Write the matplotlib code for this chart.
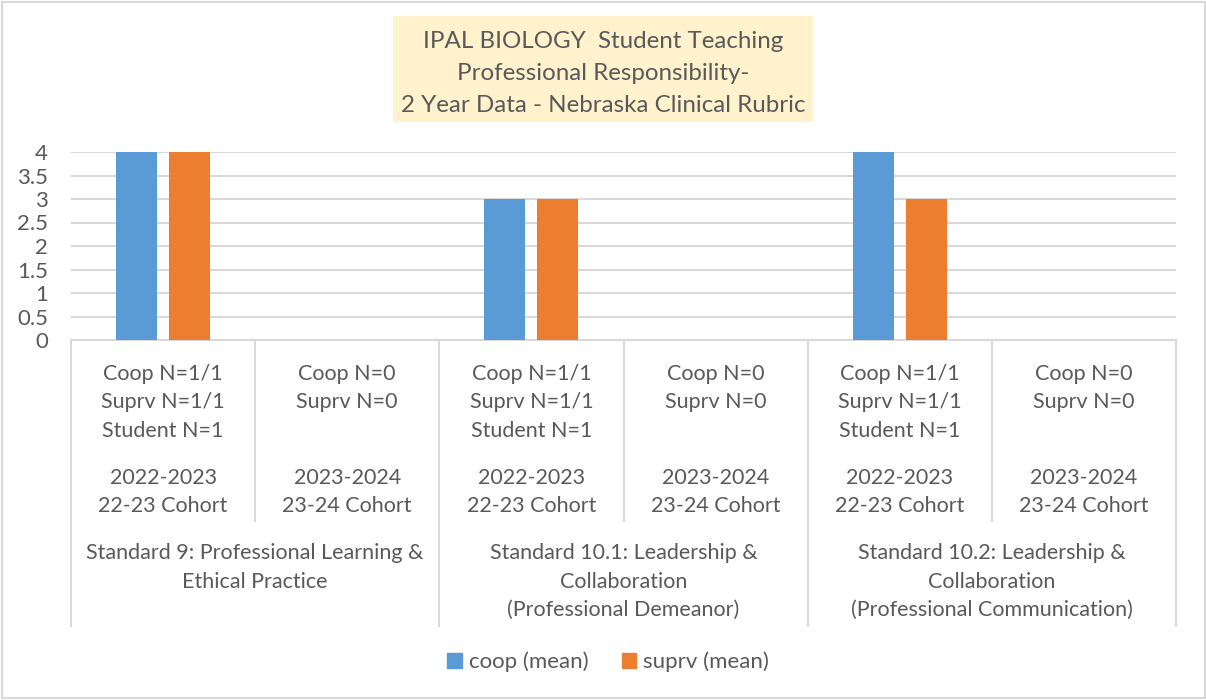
import numpy as np
import matplotlib
matplotlib.use('Agg')
import matplotlib.pyplot as plt
from matplotlib.patches import Patch, Rectangle
from matplotlib.lines import Line2D
import matplotlib.transforms as mtransforms

# data
coop_mean = [4, np.nan, 3, np.nan, 4, np.nan]
suprv_mean = [4, np.nan, 3, np.nan, 3, np.nan]
n_labels = [['Coop N=1/1', 'Suprv N=1/1', 'Student N=1'], ['Coop N=0', 'Suprv N=0'],
            ['Coop N=1/1', 'Suprv N=1/1', 'Student N=1'], ['Coop N=0', 'Suprv N=0'],
            ['Coop N=1/1', 'Suprv N=1/1', 'Student N=1'], ['Coop N=0', 'Suprv N=0']]
year_labels = [['2022-2023', '22-23 Cohort'], ['2023-2024', '23-24 Cohort'],
               ['2022-2023', '22-23 Cohort'], ['2023-2024', '23-24 Cohort'],
               ['2022-2023', '22-23 Cohort'], ['2023-2024', '23-24 Cohort']]
group_labels = [['Standard 9: Professional Learning &', 'Ethical Practice'],
                ['Standard 10.1: Leadership &', 'Collaboration', '(Professional Demeanor)'],
                ['Standard 10.2: Leadership &', 'Collaboration', '(Professional Communication)']]
title_lines = ['IPAL BIOLOGY  Student Teaching', 'Professional Responsibility-',
               '2 Year Data - Nebraska Clinical Rubric']
yticks = [0, 0.5, 1, 1.5, 2, 2.5, 3, 3.5, 4]
ytick_labels = ['0', '0.5', '1', '1.5', '2', '2.5', '3', '3.5', '4']

BLUE = '#5B9BD5'
ORANGE = '#ED7D31'
TXT = '#595959'
GRID = '#D9D9D9'
plt.rcParams['font.family'] = ['Lato', 'DejaVu Sans']

W, H = 1206, 700
fig = plt.figure(figsize=(W / 100, H / 100), dpi=100)

def fy(py):
    return 1 - py / H

# outer border
fig.patches.append(Rectangle((1.5 / W, fy(698)), (W - 3) / W, 696 / H,
                             transform=fig.transFigure, fill=False,
                             edgecolor=GRID, lw=1.5))

ax = fig.add_axes([71 / W, fy(340), (1176 - 71) / W, (340 - 152) / H])
x = np.arange(len(coop_mean))
bw = 0.223
off = 0.144
ax.bar(x - off, coop_mean, bw, color=BLUE, zorder=3)
ax.bar(x + off, suprv_mean, bw, color=ORANGE, zorder=3)
ax.set_xlim(-0.5, len(x) - 0.5)
ax.set_ylim(0, 4)
ax.set_yticks(yticks)
ax.set_yticklabels(ytick_labels)
ax.tick_params(axis='y', length=0, labelsize=16, labelcolor=TXT, pad=16.5)
ax.set_xticks([])
for s in ['top', 'right', 'left']:
    ax.spines[s].set_visible(False)
ax.spines['bottom'].set_color(GRID)
ax.spines['bottom'].set_linewidth(1.5)
ax.grid(axis='y', color=GRID, lw=1.5, zorder=0)
ax.set_axisbelow(True)

# category axis, drawn in data x / figure y
tr = mtransforms.blended_transform_factory(ax.transData, fig.transFigure)
fs = 15.5
for i in range(len(x)):
    for j, line in enumerate(n_labels[i]):
        ax.text(i, fy(372 + 28.5 * j), line, transform=tr, ha='center',
                va='center_baseline', fontsize=fs, color=TXT)
    for j, line in enumerate(year_labels[i]):
        ax.text(i, fy(476 + 28.5 * j), line, transform=tr, ha='center',
                va='center_baseline', fontsize=fs, color=TXT)
for g in range(len(group_labels)):
    for j, line in enumerate(group_labels[g]):
        ax.text(2 * g + 0.5, fy(551 + 28.5 * j), line, transform=tr,
                ha='center', va='center_baseline', fontsize=fs, color=TXT)
for b in np.arange(-0.5, len(x), 1.0):
    bottom = 626 if int(b + 0.5) % 2 == 0 else 521
    ax.add_line(Line2D([b, b], [fy(340), fy(bottom)], transform=tr,
                       color=GRID, lw=1.5, clip_on=False))

# title box
fig.patches.append(Rectangle((393 / W, fy(122)), (813 - 393) / W, (122 - 16) / H,
                             transform=fig.transFigure, facecolor='#FFF2CC',
                             edgecolor='none'))
for j, line in enumerate(title_lines):
    fig.text(603 / W, fy(39 + 32 * j), line, ha='center', va='center_baseline',
             fontsize=17.4, color=TXT)

handles = [Patch(color=BLUE, label='coop (mean)'),
           Patch(color=ORANGE, label='suprv (mean)')]
fig.legend(handles=handles, loc='center', bbox_to_anchor=(608 / W, fy(662)),
           ncol=2, frameon=False, fontsize=16, labelcolor=TXT,
           handlelength=0.65, handleheight=0.65, handletextpad=0.3,
           columnspacing=1.5)

fig.savefig('out.png', dpi=100)
